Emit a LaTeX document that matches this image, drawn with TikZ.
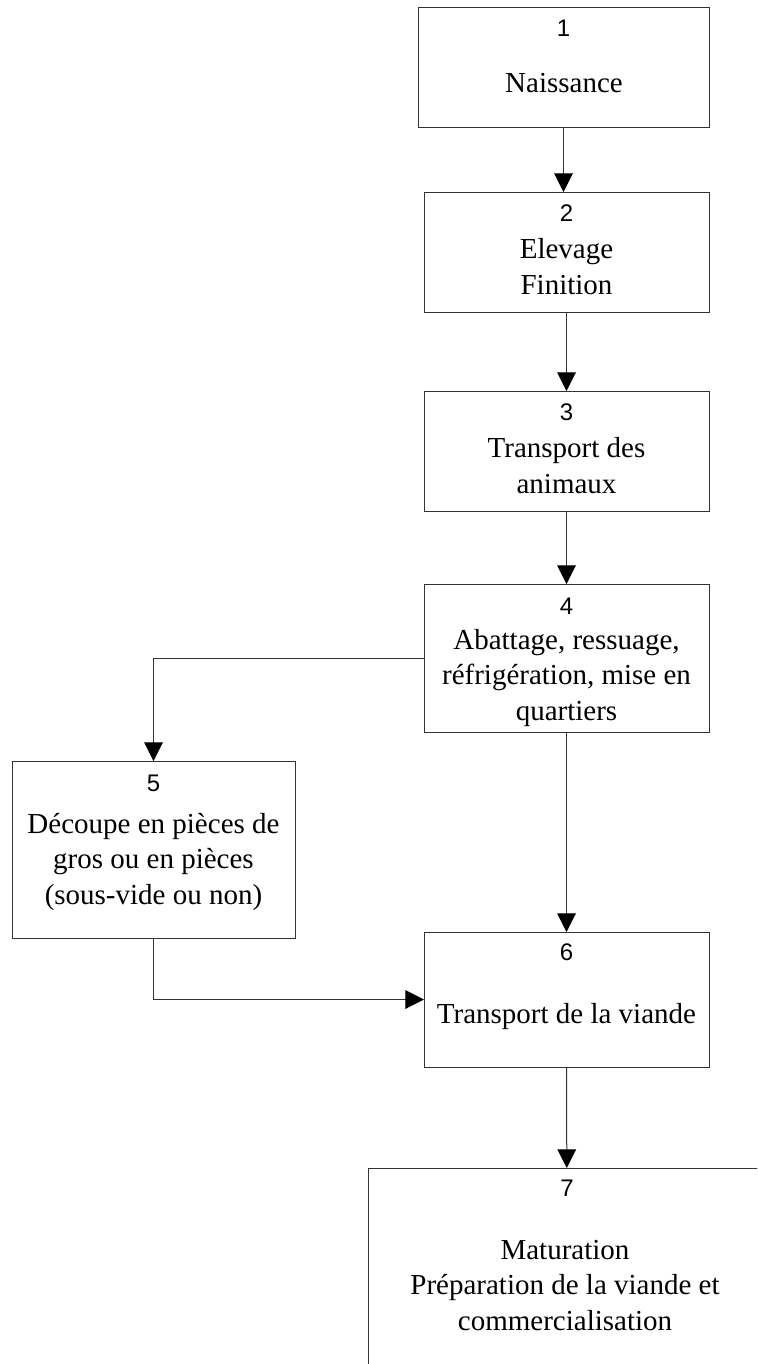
\documentclass[tikz,border=0pt]{standalone}
\usepackage{fontspec}
\setmainfont{Liberation Serif}
\newfontfamily\numfont{Liberation Sans}
\usetikzlibrary{positioning,arrows.meta}

\tikzset{
  box/.style={draw=black!80,line width=0.75pt,inner sep=0pt,outer sep=0pt,
    minimum width=213.75pt,minimum height=90pt},
  num/.style={font=\numfont\fontsize{18}{22}\selectfont,inner sep=0pt},
  txt/.style={font=\fontsize{21.75}{26.4}\selectfont,align=center,inner sep=0pt,anchor=base},
  flow/.style={draw=black!80,line width=0.75pt,-{Triangle[length=14pt,width=14pt,color=black]}}
}

\begin{document}
\begin{tikzpicture}[x=0.75pt,y=-0.75pt]
\useasboundingbox (0,0) rectangle (757,1364);
\clip (0,0) rectangle (757,1364);

\node[box,minimum width=218.25pt] (b1) at (563.5,67) {};
\node[box] (b2) at (566.5,252) {};
\node[box] (b3) at (566.5,451) {};
\node[box,minimum height=111pt] (b4) at (566.5,658) {};
\node[box,minimum width=212.25pt,minimum height=132.75pt] (b5) at (153.5,849.5) {};
\node[box,minimum height=101.25pt] (b6) at (566.5,999.5) {};
\node[box,minimum width=298.5pt,minimum height=195pt] (b7) at (567,1298) {};

\node[num] (n1) at (563.5,28) {1};
\node[num] (n2) at (566.5,213) {2};
\node[num] (n3) at (566.5,412) {3};
\node[num] (n4) at (566.5,606) {4};
\node[num] (n5) at (153.5,783) {5};
\node[num] (n6) at (566.5,952) {6};
\node[num] (n7) at (567,1188) {7};

% base = baseline of the last line
\node[txt] (t1) at (564,92) {Naissance};
\node[txt] (t2) at (566.5,294) {Elevage\\Finition};
\node[txt] (t3) at (566.5,493) {Transport des\\animaux};
\node[txt] (t4) at (566.5,720) {Abattage, ressuage,\\réfrigération, mise en\\quartiers};
\node[txt] (t5) at (153.5,904) {Découpe en pièces de\\gros ou en pièces\\(sous-vide ou non)};
\node[txt] (t6) at (566.5,1023) {Transport de la viande};
\node[txt] (t7) at (565,1330) {Maturation\\Préparation de la viande et\\commercialisation};

\draw[flow] (b1.south) -- (b1.south |- b2.north);
\draw[flow] (b2) -- (b3);
\draw[flow] (b3) -- (b4);
\draw[flow] (b4.west) -| (b5.north);
\draw[flow] (b4) -- (b6);
\draw[flow] (b5.south) |- (b6.west);
\draw[flow] (b6) -- (b7);
\end{tikzpicture}
\end{document}
